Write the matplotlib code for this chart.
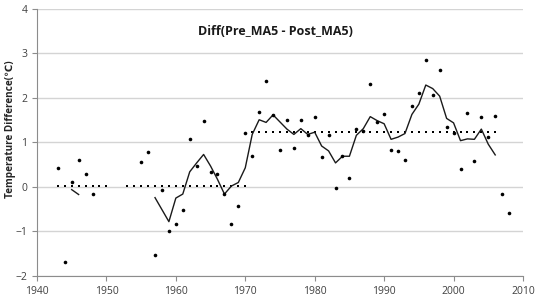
import numpy as np
import matplotlib
matplotlib.use("Agg")
import matplotlib.pyplot as plt

plt.rcParams['font.family'] = ['Open Sans', 'DejaVu Sans']

# Dados anuais (pontos)
anos_pontos = [1943, 1944, 1945, 1946, 1947, 1948,
               1955, 1956, 1957, 1958, 1959, 1960, 1961, 1962, 1963, 1964,
               1965, 1966, 1967, 1968, 1969, 1970, 1971, 1972, 1973, 1974,
               1975, 1976, 1977, 1978, 1979, 1980, 1981, 1982, 1983, 1984,
               1985, 1986, 1987, 1988, 1989, 1990, 1991, 1992, 1993, 1994,
               1995, 1996, 1997, 1998, 1999, 2000, 2001, 2002, 2003, 2004,
               2005, 2006, 2007, 2008]
diff_pontos = [0.43, -1.68, 0.10, 0.60, 0.28, -0.16,
               0.57, 0.79, -1.52, -0.07, -0.98, -0.83, -0.51, 1.07, 0.47, 1.49,
               0.33, 0.29, -0.16, -0.84, -0.43, 1.21, 0.69, 1.68, 2.39, 1.62,
               0.83, 1.50, 0.87, 1.51, 1.16, 1.58, 0.68, 1.16, -0.02, 0.69,
               0.21, 1.30, 1.25, 2.31, 1.46, 1.65, 0.83, 0.81, 0.60, 1.81,
               2.10, 2.85, 2.06, 2.63, 1.34, 1.21, 0.40, 1.66, 0.59, 1.58,
               1.13, 1.60, -0.16, -0.59]

# Media movel (MA5)
anos_ma = [1945, 1946, 1947,
           1957, 1958, 1959, 1960, 1961, 1962, 1963, 1964, 1965, 1966,
           1967, 1968, 1969, 1970, 1971, 1972, 1973, 1974, 1975, 1976,
           1977, 1978, 1979, 1980, 1981, 1982, 1983, 1984, 1985, 1986,
           1987, 1988, 1989, 1990, 1991, 1992, 1993, 1994, 1995, 1996,
           1997, 1998, 1999, 2000, 2001, 2002, 2003, 2004, 2005, 2006]
valores_ma = [-0.06, -0.17, np.nan,
              -0.24, -0.51, -0.78, -0.25, -0.16, 0.34, 0.54, 0.73, 0.47, 0.17,
              -0.16, 0.02, 0.10, 0.43, 1.18, 1.51, 1.45, 1.62, 1.46, 1.30,
              1.18, 1.31, 1.18, 1.23, 0.92, 0.81, 0.54, 0.69, 0.69, 1.16,
              1.31, 1.58, 1.49, 1.42, 1.07, 1.12, 1.20, 1.63, 1.86, 2.29,
              2.21, 2.04, 1.54, 1.44, 1.04, 1.08, 1.07, 1.30, 0.96, 0.72]

# Niveis medios (linhas pontilhadas)
nivel_anos_1 = list(range(1943, 1951))
nivel_val_1 = 0.03
nivel_anos_2 = list(range(1953, 1971))
nivel_val_2 = 0.03
nivel_anos_3 = list(range(1971, 2007))
nivel_val_3 = 1.23

fig = plt.figure(figsize=(5.39, 2.98), dpi=100)
ax = fig.add_axes([0.0686, 0.074, 0.9017, 0.896])

cor_grid = '#d4d4d4'
cor_eixo = '#8c8c8c'

for anos, val in [(nivel_anos_1, nivel_val_1), (nivel_anos_2, nivel_val_2),
                  (nivel_anos_3, nivel_val_3)]:
    ax.plot(anos, [val] * len(anos), linestyle='none', marker='s',
            markersize=1.7, markeredgewidth=0, color='black', zorder=3)

ax.plot(anos_ma, valores_ma, color='#1a1a1a', linewidth=1.0, zorder=3)
ax.plot(anos_pontos, diff_pontos, linestyle='none', marker='o',
        markersize=2.6, markeredgewidth=0, color='black', zorder=4)

ax.set_xlim(1940, 2010)
ax.set_ylim(-2, 4)
ax.set_xticks(np.arange(1940, 2011, 10))
ax.set_yticks(np.arange(-2, 5, 1))
ax.grid(True, axis='y', color=cor_grid, linewidth=1)
ax.set_axisbelow(True)

for lado in ['top', 'right']:
    ax.spines[lado].set_visible(False)
for lado in ['left', 'bottom']:
    ax.spines[lado].set_color(cor_eixo)
ax.tick_params(axis='both', colors=cor_eixo, labelcolor='#404040',
               labelsize=7.5, length=3.5, direction='out')
ax.tick_params(axis='x', pad=4)

ax.set_ylabel('Temperature Difference(℃)', fontsize=7.2, fontweight='bold',
              color='#262626')
ax.yaxis.set_label_coords(-0.044, 0.55)
ax.text(0.49, 0.914, 'Diff(Pre_MA5 - Post_MA5)', transform=ax.transAxes,
        ha='center', va='center', fontsize=9, fontweight='bold', color='#1a1a1a')

fig.savefig('out.png', dpi=100)
